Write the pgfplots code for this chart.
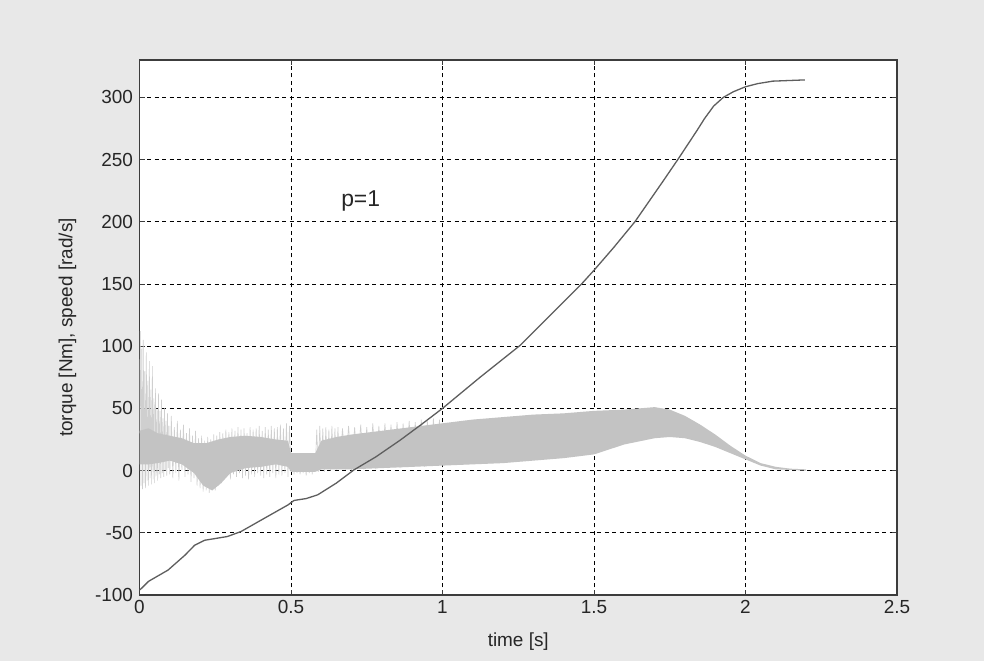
\documentclass[border=0pt]{standalone}
\usepackage{pgfplots}
\pgfplotsset{compat=1.18}
\usepackage{fontspec}
\setmainfont{Liberation Sans}

\definecolor{scan}{HTML}{E8E8E8}
\definecolor{frame}{HTML}{3C3C3C}
\definecolor{speedc}{HTML}{5E5E5E}
\definecolor{bandc}{HTML}{C3C3C3}
\definecolor{spikec}{HTML}{CFCFCF}

\begin{document}
\begin{tikzpicture}
\fill[scan] (0bp,0bp) rectangle (984bp,661bp);
\begin{axis}[
  at={(139.5bp,66bp)}, anchor=south west,
  width=757.5bp, height=535bp, scale only axis,
  xmin=0, xmax=2.5, ymin=-100, ymax=330,
  xtick={0,0.5,...,2.5},
  ytick={-100,-50,...,300},
  axis background/.style={fill=white},
  axis line style={frame, line width=1.5bp},
  tick align=inside, major tick length=5bp,
  tick style={frame, line width=0.8bp},
  grid=major,
  major grid style={black, line width=0.9bp, dash pattern=on 4bp off 3.5bp},
  /pgf/number format/assume math mode=true,
  tick label style={font=\fontsize{19}{22}\selectfont, text=black!85},
  xticklabel style={yshift=-2bp},
  yticklabel style={xshift=-3bp},
  xlabel={time [s]},
  ylabel={torque [Nm], speed [rad/s]},
  label style={font=\fontsize{19}{22}\selectfont, text=black!85},
  xlabel style={at={([yshift=-47bp]axis description cs:0.5,0)}, anchor=center},
  ylabel style={at={([xshift=-72bp]axis description cs:0,0.5)}, anchor=center},
]
% torque: light spikes of the first second
\addplot[spikec, line width=0.6bp] coordinates {
(0.000,30) (0.0025,112) (0.005,-12) (0.0075,98) (0.010,-15) (0.0125,105)
(0.015,-10) (0.0175,80) (0.020,-14) (0.0225,95) (0.025,-8) (0.0275,72)
(0.030,-12) (0.0325,88) (0.035,-6) (0.0375,65) (0.040,-11) (0.0425,84)
(0.045,-7) (0.0475,58) (0.050,-10) (0.0525,66) (0.055,-4) (0.0575,50)
(0.060,-8) (0.0625,62) (0.065,-3) (0.0675,48) (0.070,-6) (0.0725,57)
(0.075,-2) (0.0775,42) (0.080,-5) (0.0825,50) (0.085,0) (0.0875,40)
(0.090,-4) (0.0925,46) (0.095,2) (0.0975,36) (0.100,-3)
(0.105,44) (0.110,-6) (0.115,35) (0.120,-2) (0.125,40) (0.130,-8)
(0.135,33) (0.140,0) (0.145,37) (0.150,-5) (0.155,30) (0.160,-3)
(0.165,34) (0.170,-9) (0.175,28) (0.180,-6) (0.185,32) (0.190,-12)
(0.195,26) (0.200,-14) (0.205,28) (0.210,-17) (0.215,24) (0.220,-16)
(0.225,27) (0.230,-18) (0.235,25) (0.240,-15) (0.245,29) (0.250,-16)
(0.255,28) (0.260,-12) (0.265,31) (0.270,-10) (0.275,30) (0.280,-6)
(0.285,33) (0.290,-4) (0.295,31) (0.300,-7) (0.305,34) (0.310,-3)
(0.315,32) (0.320,-5) (0.325,35) (0.330,-2) (0.335,33) (0.340,-6)
(0.345,34) (0.350,-4) (0.355,30) (0.360,-7) (0.365,35) (0.370,-3)
(0.375,33) (0.380,-5) (0.385,34) (0.390,-2) (0.395,36) (0.400,-4)
(0.405,32) (0.410,-6) (0.415,35) (0.420,-3) (0.425,33) (0.430,-5)
(0.435,36) (0.440,-2) (0.445,34) (0.450,-6) (0.455,35) (0.460,-3)
(0.465,37) (0.470,-4) (0.475,34) (0.480,-2) (0.485,38) (0.490,-5)
(0.495,36) (0.500,0) (0.505,14) (0.510,-3) (0.515,13) (0.520,-2)
(0.525,14) (0.530,-3) (0.535,12) (0.540,-2) (0.545,13) (0.550,-4)
(0.555,12) (0.560,-2) (0.565,14) (0.570,-3) (0.575,13) (0.580,0)
(0.585,33) (0.590,-1) (0.595,36) (0.600,1) (0.605,34) (0.610,-1)
(0.615,35) (0.620,2) (0.625,33) (0.630,0) (0.635,36) (0.640,2)
(0.645,34) (0.650,1) (0.655,35) (0.660,2) (0.670,34) (0.680,1)
(0.690,36) (0.700,0) (0.710,35) (0.720,2) (0.730,37) (0.740,1)
(0.750,35) (0.760,2) (0.770,38) (0.780,1) (0.790,36) (0.800,3)
(0.810,38) (0.820,2) (0.830,37) (0.840,3) (0.850,39) (0.860,2)
(0.870,38) (0.880,3) (0.890,40) (0.900,3) (0.910,39) (0.920,4)
(0.930,41) (0.940,3) (0.950,40) (0.960,4) (0.970,42) (0.980,4)
(0.990,41) (1.000,5)
};
% torque: dense oscillation band (upper envelope, then lower envelope back)
\addplot[draw=none, fill=bandc] coordinates {
(0.00,32) (0.03,34) (0.06,30) (0.10,28) (0.14,26) (0.18,22) (0.22,22)
(0.26,25) (0.30,27) (0.35,28) (0.40,27) (0.45,25) (0.49,24) (0.50,14)
(0.58,14) (0.60,24) (0.65,27) (0.70,29) (0.80,32) (0.90,35) (1.00,38)
(1.10,41) (1.20,43) (1.30,45) (1.40,46) (1.50,48) (1.60,49) (1.70,51)
(1.75,49) (1.80,44) (1.85,37) (1.90,29) (1.95,20) (2.00,12) (2.05,6)
(2.10,3) (2.15,1.5) (2.20,1)
(2.20,0) (2.15,0.5) (2.10,1) (2.05,4) (2.00,9) (1.95,14) (1.90,19)
(1.85,23) (1.80,26) (1.75,27) (1.70,26) (1.60,21) (1.50,13) (1.40,10)
(1.30,8) (1.20,6) (1.10,5) (1.00,4) (0.90,3) (0.80,2) (0.70,1)
(0.60,1) (0.58,-1) (0.50,-1) (0.49,3) (0.45,5) (0.40,3) (0.35,2)
(0.30,-2) (0.27,-10) (0.24,-16) (0.21,-12) (0.18,-2) (0.14,5) (0.10,8)
(0.06,6) (0.03,5) (0.00,5)
} \closedcycle;
% speed
\addplot[speedc, line width=1.3bp] coordinates {
(0,-96) (0.007,-94.6) (0.03,-89) (0.094,-80) (0.15,-68) (0.182,-60)
(0.215,-56) (0.29,-53) (0.335,-49) (0.40,-40) (0.49,-27.6) (0.51,-24)
(0.55,-22.5) (0.588,-19.5) (0.65,-10) (0.708,0.6) (0.78,11) (0.86,24.4)
(0.93,37) (1.0,50) (1.124,75) (1.256,100.6) (1.355,124.7) (1.459,150)
(1.50,161) (1.564,179) (1.635,200) (1.729,233) (1.778,250.5) (1.839,273)
(1.865,283) (1.895,293) (1.927,300) (1.96,304.5) (2.0,308.5) (2.04,311)
(2.09,313) (2.196,314)
};
\node[font=\fontsize{23}{26}\selectfont, text=black!85] at (axis cs:0.73,217) {p=1};
\end{axis}
\end{tikzpicture}
\end{document}
